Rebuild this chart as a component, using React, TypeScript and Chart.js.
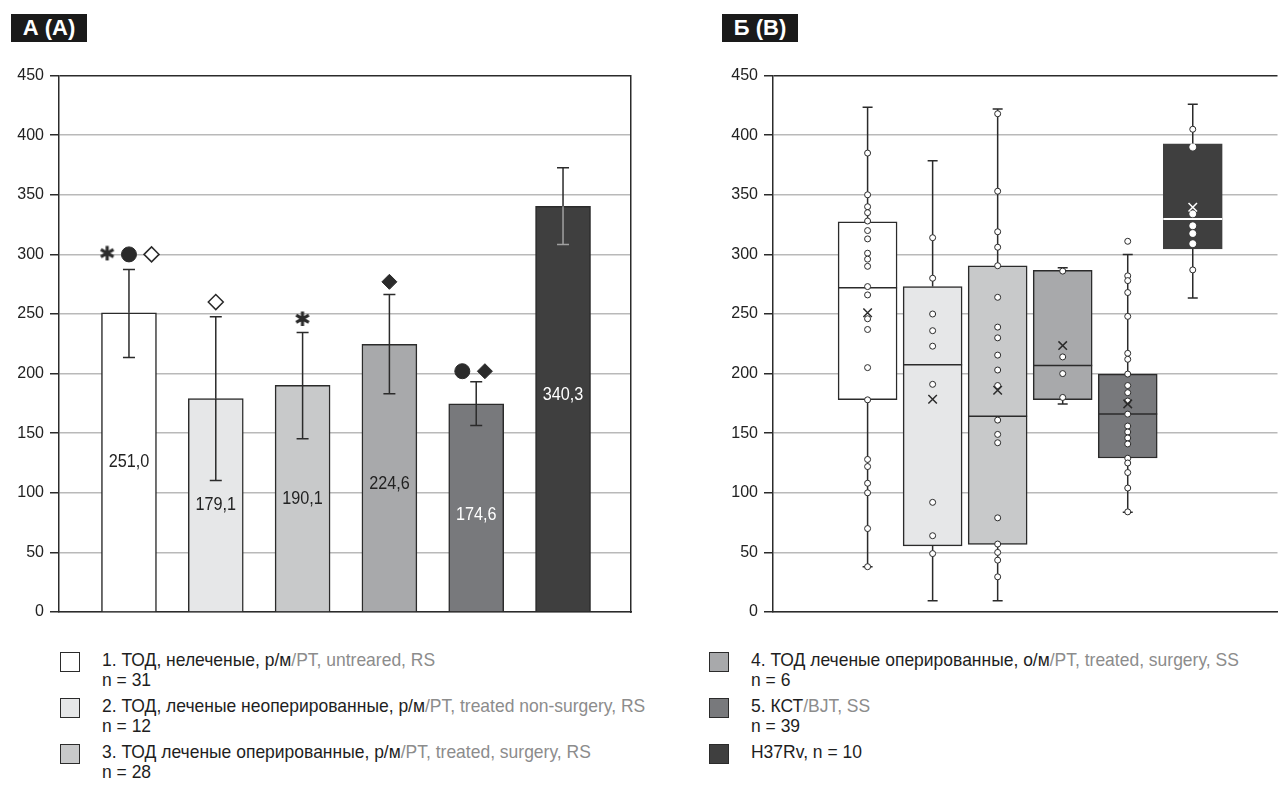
import React, { useEffect, useRef } from "react";
import { Chart, registerables } from "chart.js";
Chart.register(...registerables);

// ---------- DATA ----------
const yTickStep = 50;
const yMax = 450;

// Panel A: means with error bars
const barPositions = [1, 2, 3, 4, 5, 6];
const barMeans = [251.0, 179.1, 190.1, 224.6, 174.6, 340.3];
const errLow = [213.6, 110.4, 145.3, 183.2, 156.4, 308.4];
const errHigh = [287.4, 247.6, 234.5, 266.3, 193.2, 372.6];
const barLabels = ["251,0", "179,1", "190,1", "224,6", "174,6", "340,3"];

// significance markers (panel A)
const asteriskMarks = [
  { x: 0.75, y: 300 },
  { x: 3, y: 245 },
];
const circleMarks = [
  { x: 1.0, y: 300 },
  { x: 4.84, y: 202 },
];
const openDiamondMarks = [
  { x: 1.26, y: 300 },
  { x: 2, y: 260 },
];
const filledDiamondMarks = [
  { x: 4, y: 277 },
  { x: 5.1, y: 202 },
];

// Panel B: box plots
const boxMin = [38, 9.5, 9.5, 174.6, 83.6, 263.5];
const boxQ1 = [178.2, 55.5, 56.6, 178.2, 129.2, 304.7];
const boxMedian = [272, 207.5, 164.2, 206.7, 166.2, 329.8];
const boxQ3 = [327.3, 273, 290.5, 286.6, 199.6, 392.8];
const boxMax = [423.5, 378.6, 422, 288.8, 300, 426];
const boxMean = [251, 178.5, 186, 223.5, 174.6, 339.5];

const pts1 = [385, 350, 340, 335, 328, 320, 313, 301, 296, 290, 273, 266, 246, 237, 205, 178, 128, 122, 108, 100, 70, 38];
const pts2 = [314, 280, 250, 236, 223, 191, 92, 64, 49];
const pts3 = [418, 353, 319, 306, 290.5, 264, 239, 230, 215.5, 203, 190, 161, 149, 142, 79, 57, 50, 43.5, 29.5];
const pts4 = [286, 214, 200, 180];
const pts5 = [311, 282, 278, 268, 248, 217, 212, 199.6, 190, 184, 177, 166, 156, 151, 146, 141, 129, 125, 117, 104, 84];
const pts6 = [405, 390, 334, 324, 317.5, 309, 287];
const allPts = [pts1, pts2, pts3, pts4, pts5, pts6];

// ---------- STYLE ----------
const fills = ["#ffffff", "#e6e7e8", "#c8c9ca", "#a8a9ab", "#78797c", "#3f3f3f"];
const dark = "#2b2b2b";
const gridGray = "#b9b9b9";
const labelColors = ["#222", "#222", "#222", "#222", "#fff", "#fff"];
const labelFrac = [0.5, 0.5, 0.5, 0.477, 0.465, 0.536];
const tickFont = { family: "'Liberation Sans', Arial, sans-serif", size: 16 };
const sans = "'Liberation Sans', Arial, sans-serif";

function makeAsterisk(): HTMLCanvasElement {
  const c = document.createElement("canvas");
  c.width = 20;
  c.height = 20;
  const g = c.getContext("2d")!;
  g.fillStyle = dark;
  g.font = "bold 20px 'DejaVu Sans'";
  g.textAlign = "center";
  g.textBaseline = "middle";
  g.fillText("\u2731", 10, 11);
  return c;
}

function yScale(width: number) {
  return {
    min: 0,
    max: yMax,
    ticks: { stepSize: yTickStep, color: "#222", font: tickFont, padding: 6 },
    grid: {
      color: (c: any) => (c.tick && c.tick.value === yMax ? dark : gridGray),
      lineWidth: 1.5,
      tickColor: dark,
      tickLength: 9,
      drawTicks: true,
    },
    border: { display: true, color: dark, width: 1.5 },
    afterFit: (a: any) => {
      a.width = width;
    },
  };
}

const errorBarPlugin = {
  id: "errbars",
  afterDatasetDraw(chart: any, args: any) {
    if (args.index !== 0) return;
    const { ctx } = chart;
    const x = chart.scales.x;
    const y = chart.scales.y;
    ctx.save();
    ctx.lineWidth = 1.5;
    barMeans.forEach((m, i) => {
      const px = x.getPixelForValue(barPositions[i]);
      const top = y.getPixelForValue(errHigh[i]);
      const bot = y.getPixelForValue(errLow[i]);
      const barTop = y.getPixelForValue(m);
      const inner = i === 5 ? "#a0a0a0" : dark;
      ctx.strokeStyle = dark;
      ctx.beginPath();
      ctx.moveTo(px, top);
      ctx.lineTo(px, barTop);
      ctx.moveTo(px - 6, top);
      ctx.lineTo(px + 6, top);
      ctx.stroke();
      ctx.strokeStyle = inner;
      ctx.beginPath();
      ctx.moveTo(px, barTop);
      ctx.lineTo(px, bot);
      ctx.moveTo(px - 6, bot);
      ctx.lineTo(px + 6, bot);
      ctx.stroke();
    });
    ctx.restore();
  },
  afterDatasetsDraw(chart: any) {
    const { ctx } = chart;
    const x = chart.scales.x;
    const y = chart.scales.y;
    ctx.save();
    ctx.font = `18px ${sans}`;
    ctx.textAlign = "center";
    ctx.textBaseline = "middle";
    barMeans.forEach((m, i) => {
      const px = x.getPixelForValue(barPositions[i]);
      const py = y.getPixelForValue(m * labelFrac[i]);
      ctx.save();
      ctx.translate(px, py);
      ctx.scale(0.9, 1);
      ctx.fillStyle = labelColors[i];
      ctx.fillText(barLabels[i], 0, 0);
      ctx.restore();
    });
    ctx.restore();
  },
};

const boxPlugin = {
  id: "boxparts",
  afterDatasetDraw(chart: any, args: any) {
    if (args.index !== 0) return;
    const { ctx } = chart;
    const x = chart.scales.x;
    const y = chart.scales.y;
    const half = 29.5;
    ctx.save();
    ctx.lineWidth = 1.5;
    boxQ1.forEach((q1, i) => {
      const px = x.getPixelForValue(i + 1);
      const pq1 = y.getPixelForValue(q1);
      const pq3 = y.getPixelForValue(boxQ3[i]);
      const pmin = y.getPixelForValue(boxMin[i]);
      const pmax = y.getPixelForValue(boxMax[i]);
      const pmed = y.getPixelForValue(boxMedian[i]);
      ctx.strokeStyle = dark;
      ctx.beginPath();
      ctx.moveTo(px, pq3);
      ctx.lineTo(px, pmax);
      ctx.moveTo(px - 5, pmax);
      ctx.lineTo(px + 5, pmax);
      ctx.moveTo(px, pq1);
      ctx.lineTo(px, pmin);
      ctx.moveTo(px - 5, pmin);
      ctx.lineTo(px + 5, pmin);
      ctx.stroke();
      ctx.strokeStyle = i === 5 ? "#ffffff" : dark;
      ctx.lineWidth = i === 5 ? 2 : 1.5;
      ctx.beginPath();
      ctx.moveTo(px - half, pmed);
      ctx.lineTo(px + half, pmed);
      ctx.stroke();
      ctx.lineWidth = 1.5;
    });
    ctx.restore();
  },
};

function PanelA() {
  const ref = useRef<HTMLCanvasElement>(null);
  useEffect(() => {
    if (!ref.current) return;
    const markerDs = (data: any[], style: any, r: number, bg: string, bw: number) => ({
      type: "scatter" as const,
      data,
      pointStyle: style,
      pointRadius: r,
      pointHoverRadius: r,
      backgroundColor: bg,
      borderColor: dark,
      borderWidth: bw,
      order: 1,
    });
    const chart = new Chart(ref.current, {
      type: "bar",
      data: {
        datasets: [
          {
            type: "bar",
            data: barMeans.map((v, i) => ({ x: barPositions[i], y: v })),
            backgroundColor: fills,
            borderColor: dark,
            borderWidth: 1.5,
            barThickness: 55,
            order: 3,
          } as any,
          markerDs(asteriskMarks, makeAsterisk(), 8, dark, 0),
          markerDs(circleMarks, "circle", 7.5, dark, 1),
          markerDs(openDiamondMarks, "rectRot", 7.5, "#ffffff", 1.5),
          markerDs(filledDiamondMarks, "rectRot", 7.5, dark, 1),
        ],
      },
      options: {
        animation: false,
        responsive: false,
        maintainAspectRatio: false,
        layout: { padding: { top: 14, right: 9, bottom: 18, left: 0 } },
        plugins: { legend: { display: false }, tooltip: { enabled: false } },
        scales: {
          x: {
            type: "linear",
            min: 0.194,
            max: 6.783,
            offset: false,
            grid: { display: false },
            ticks: { display: false },
            border: { display: true, color: dark, width: 1.5 },
            afterFit: (a: any) => {
              a.height = 0;
            },
          },
          y: yScale(59) as any,
          y2: {
            position: "right",
            min: 0,
            max: yMax,
            grid: { display: false },
            ticks: { display: false },
            border: { display: true, color: dark, width: 1.5 },
            afterFit: (a: any) => {
              a.width = 0;
            },
          },
        },
      } as any,
      plugins: [errorBarPlugin],
    });
    return () => chart.destroy();
  }, []);
  return <canvas ref={ref} width={640} height={570} style={{ position: "absolute", left: 0, top: 60, width: 640, height: 570 }} />;
}

function PanelB() {
  const ref = useRef<HTMLCanvasElement>(null);
  useEffect(() => {
    if (!ref.current) return;
    const pointData: any[] = [];
    const pointBorder: string[] = [];
    allPts.forEach((arr, gi) => {
      arr.forEach((v) => {
        pointData.push({ x: gi + 1, y: v });
        const inside = gi === 5 && v >= boxQ1[gi] && v <= boxQ3[gi];
        pointBorder.push(inside ? "#ffffff" : dark);
      });
    });
    const chart = new Chart(ref.current, {
      type: "bar",
      data: {
        datasets: [
          {
            type: "bar",
            data: boxQ1.map((q, i) => ({ x: i + 1, y: [q, boxQ3[i]] })),
            backgroundColor: fills,
            borderColor: fills.map((f, i) => (i === 5 ? "#3f3f3f" : dark)),
            borderWidth: 1.5,
            borderSkipped: false,
            barThickness: 59,
            order: 3,
          } as any,
          {
            type: "scatter",
            data: pointData,
            pointStyle: "circle",
            pointRadius: 3,
            pointHoverRadius: 3,
            backgroundColor: "#ffffff",
            borderColor: pointBorder,
            borderWidth: 1,
            order: 1,
          } as any,
          {
            type: "scatter",
            data: boxMean.map((m, i) => ({ x: i + 1, y: m })),
            pointStyle: "crossRot",
            pointRadius: 6,
            pointHoverRadius: 6,
            borderColor: fills.map((f, i) => (i === 5 ? "#ffffff" : dark)),
            borderWidth: 1.5,
            order: 0,
          } as any,
        ],
      },
      options: {
        animation: false,
        responsive: false,
        maintainAspectRatio: false,
        layout: { padding: { top: 14, right: 0, bottom: 18, left: 0 } },
        plugins: { legend: { display: false }, tooltip: { enabled: false } },
        scales: {
          x: {
            type: "linear",
            min: -0.4545,
            max: 7.303,
            offset: false,
            grid: { display: false },
            ticks: { display: false },
            border: { display: true, color: dark, width: 1.5 },
            afterFit: (a: any) => {
              a.height = 0;
            },
          },
          y: yScale(73) as any,
        },
      } as any,
      plugins: [boxPlugin],
    });
    return () => chart.destroy();
  }, []);
  return <canvas ref={ref} width={585} height={570} style={{ position: "absolute", left: 700, top: 60, width: 585, height: 570 }} />;
}

const legendLeft = [
  { ru: "1. ТОД, нелеченые, р/м", en: "/PT, untreared, RS", n: "n = 31" },
  { ru: "2. ТОД, леченые неоперированные, р/м", en: "/PT, treated non-surgery, RS", n: "n = 12" },
  { ru: "3. ТОД леченые оперированные, р/м", en: "/PT, treated, surgery, RS", n: "n = 28" },
];
const legendRight = [
  { ru: "4. ТОД леченые оперированные, о/м", en: "/PT, treated, surgery, SS", n: "n = 6" },
  { ru: "5. КСТ", en: "/BJT, SS", n: "n = 39" },
  { ru: "H37Rv, n = 10", en: "", n: "" },
];

function Legend({ items, left, colorsOffset }: { items: any[]; left: number; colorsOffset: number }) {
  return (
    <>
      {items.map((it, i) => (
        <div key={i} style={{ position: "absolute", left, top: 650 + i * 46 }}>
          <div
            style={{
              position: "absolute",
              left: 0,
              top: 2,
              width: 18,
              height: 18,
              background: fills[i + colorsOffset],
              border: `1px solid ${dark}`,
            }}
          />
          <div
            style={{
              position: "absolute",
              left: 42,
              top: 0,
              whiteSpace: "nowrap",
              fontFamily: sans,
              fontSize: 19,
              lineHeight: "20px",
              color: "#1e1e1e",
              transform: "scaleX(0.92)",
              transformOrigin: "0 0",
            }}
          >
            <span>{it.ru}</span>
            <span style={{ color: "#8c8c8c" }}>{it.en}</span>
            {it.n ? <div>{it.n}</div> : null}
          </div>
        </div>
      ))}
    </>
  );
}

function TitleBox({ text, left }: { text: string; left: number }) {
  return (
    <div
      style={{
        position: "absolute",
        left,
        top: 14,
        height: 28,
        width: 76,
        textAlign: "center",
        background: "#1a1a1a",
        color: "#fff",
        fontFamily: sans,
        fontWeight: "bold",
        fontSize: 22,
        lineHeight: "28px",
      }}
    >
      {text}
    </div>
  );
}

export default function App() {
  return (
    <div style={{ position: "fixed", left: 0, top: 0, width: 1285, height: 803, background: "#fff", overflow: "hidden" }}>
      <TitleBox text="А (А)" left={11} />
      <TitleBox text="Б (В)" left={722} />
      <PanelA />
      <PanelB />
      <Legend items={legendLeft} left={60} colorsOffset={0} />
      <Legend items={legendRight} left={709} colorsOffset={3} />
    </div>
  );
}
